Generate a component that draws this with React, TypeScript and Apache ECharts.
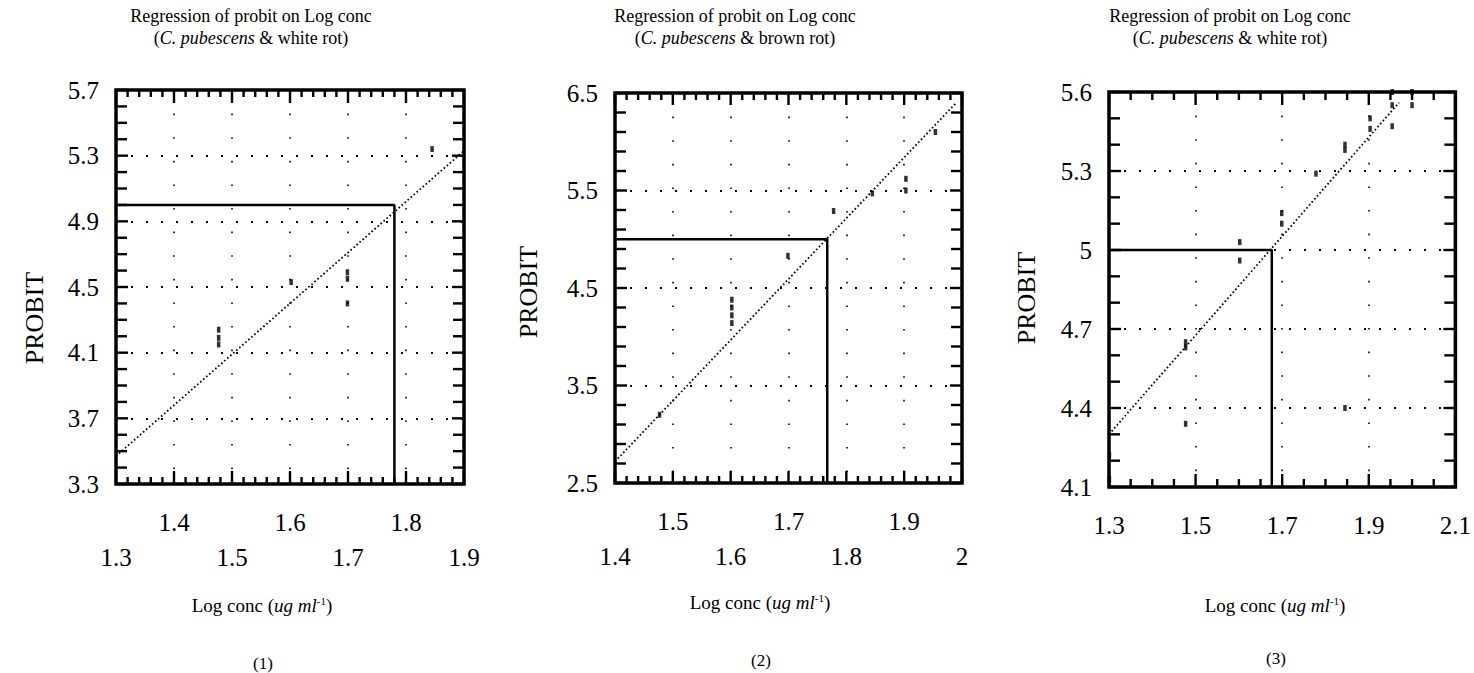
import React, { useEffect, useRef } from "react";
import * as echarts from "echarts";

// ---------- data ----------
const panelNames = ["(1)", "(2)", "(3)"];
const titleLine1 = ["Regression of probit on Log conc", "Regression of probit on Log conc", "Regression of probit on Log conc"];
const fungus = ["white rot", "brown rot", "white rot"];

const xMin = [1.3, 1.4, 1.3];
const xMax = [1.9, 2.0, 2.1];
const xStep = [0.1, 0.1, 0.2];
const xMinorSplit = [5, 5, 4];
const xStagger = [true, true, false];

const yMin = [3.3, 2.5, 4.1];
const yMax = [5.7, 6.5, 5.6];
const yStep = [0.4, 1.0, 0.3];
const yMinorSplit = [4, 5, 3];

const probitRef = 5;
const lc50 = [1.78, 1.767, 1.676];

const regStartX = [1.3, 1.4, 1.3];
const regStartY = [3.47, 2.72, 4.3];
const regEndX = [1.9, 1.99, 1.97];
const regEndY = [5.33, 6.4, 5.56];

const pts1X = [1.477, 1.477, 1.477, 1.602, 1.699, 1.699, 1.699, 1.845];
const pts1Y = [4.24, 4.19, 4.15, 4.53, 4.59, 4.55, 4.4, 5.34];

const pts2X = [1.477, 1.602, 1.602, 1.602, 1.602, 1.699, 1.778, 1.845, 1.903, 1.903, 1.954];
const pts2Y = [3.2, 4.38, 4.3, 4.22, 4.14, 4.83, 5.29, 5.47, 5.62, 5.5, 6.1];

const pts3X = [1.301, 1.301, 1.477, 1.477, 1.477, 1.602, 1.602, 1.699, 1.699, 1.778, 1.845, 1.845, 1.845, 1.903, 1.903, 1.954, 1.954, 1.954, 2.0, 2.0];
const pts3Y = [4.22, 4.13, 4.65, 4.63, 4.34, 5.03, 4.96, 5.14, 5.1, 5.29, 5.4, 5.38, 4.4, 5.5, 5.46, 5.6, 5.55, 5.47, 5.6, 5.55];

const ptsX = [pts1X, pts2X, pts3X];
const ptsY = [pts1Y, pts2Y, pts3Y];

// ---------- layout / style ----------
const gridBox = [
  { left: 116, top: 90, width: 348, height: 394 },
  { left: 615, top: 93, width: 347, height: 390 },
  { left: 1109, top: 92, width: 349, height: 395 },
];
const titleCx = [251, 735, 1230];
const probitPos = [[34, 318], [528, 292], [1026, 298]];
const xNamePos = [[262, 605], [760, 602], [1275, 605]];
const panelLabelPos = [[263, 663], [761, 660], [1276, 658]];
const xTickLen = [[13, 7], [12, 7], [13, 8]]; // [major, minor]
const yTickLen = [[12, 11], [12, 11], [12, 11]];

const SERIF = "'Liberation Serif', 'DejaVu Serif', serif";
const BLACK = "#000";

function fmtNum(v: number) {
  return String(+Number(v).toFixed(2));
}

// tick marks (drawn inside all four sides of the frame)
function tickItems(i: number) {
  const items: number[][] = [];
  const nx = Math.round(((xMax[i] - xMin[i]) / xStep[i]) * xMinorSplit[i]);
  for (let k = 0; k <= nx; k++) {
    const v = xMin[i] + (k * xStep[i]) / xMinorSplit[i];
    const len = k % xMinorSplit[i] === 0 ? xTickLen[i][0] : xTickLen[i][1];
    items.push([v, 0, len]);
    items.push([v, 1, len]);
  }
  const ny = Math.round(((yMax[i] - yMin[i]) / yStep[i]) * yMinorSplit[i]);
  for (let k = 0; k <= ny; k++) {
    const v = yMin[i] + (k * yStep[i]) / yMinorSplit[i];
    const len = k % yMinorSplit[i] === 0 ? yTickLen[i][0] : yTickLen[i][1];
    items.push([v, 2, len]);
    items.push([v, 3, len]);
  }
  return items;
}

export default function App() {
  const ref = useRef<HTMLDivElement>(null);

  useEffect(() => {
    if (!ref.current) return;
    const chart = echarts.init(ref.current, undefined, { renderer: "svg" });

    const grid: any[] = [];
    const xAxis: any[] = [];
    const yAxis: any[] = [];
    const series: any[] = [];
    const graphic: any[] = [];

    for (let i = 0; i < 3; i++) {
      grid.push({ ...gridBox[i], show: true, borderColor: BLACK, borderWidth: 3.5, backgroundColor: "transparent", containLabel: false });

      xAxis.push({
        gridIndex: i,
        type: "value",
        min: xMin[i],
        max: xMax[i],
        interval: xStep[i],
        position: "bottom",
        axisLine: { show: false },
        axisTick: { show: false },
        minorTick: { show: false },
        axisLabel: {
          show: true,
          margin: 26,
          color: BLACK,
          fontFamily: SERIF,
          fontSize: 25,
          formatter: (v: number) => {
            const idx = Math.round((v - xMin[i]) / xStep[i]);
            const t = fmtNum(v);
            if (!xStagger[i]) return `{a|${t}}`;
            return idx % 2 === 1 ? `{a|${t}}` : `{b|${t}}`;
          },
          rich: {
            a: { fontFamily: SERIF, fontSize: 25, color: BLACK },
            b: { fontFamily: SERIF, fontSize: 25, color: BLACK, padding: [35, 0, 0, 0] },
          },
        },
        splitLine: { show: true, lineStyle: { color: BLACK, width: 1.6, type: [1.6, 22] } },
        minorSplitLine: { show: false },
      });

      yAxis.push({
        gridIndex: i,
        type: "value",
        min: yMin[i],
        max: yMax[i],
        interval: yStep[i],
        position: "left",
        axisLine: { show: false },
        axisTick: { show: false },
        minorTick: { show: false },
        axisLabel: {
          show: true,
          margin: 17,
          color: BLACK,
          fontFamily: SERIF,
          fontSize: 25,
          formatter: (v: number) => fmtNum(v),
        },
        splitLine: { show: true, lineStyle: { color: BLACK, width: 2, type: [2, 13] } },
        minorSplitLine: { show: false },
      });

      // frame ticks
      const gi = i;
      series.push({
        type: "custom",
        xAxisIndex: i,
        yAxisIndex: i,
        clip: false,
        silent: true,
        z: 6,
        data: tickItems(i),
        renderItem: (params: any, api: any) => {
          const v = api.value(0);
          const side = api.value(1);
          const len = api.value(2);
          let p: number[];
          let q: number[];
          if (side === 0) {
            p = api.coord([v, yMin[gi]]);
            q = [p[0], p[1] - len];
          } else if (side === 1) {
            p = api.coord([v, yMax[gi]]);
            q = [p[0], p[1] + len];
          } else if (side === 2) {
            p = api.coord([xMin[gi], v]);
            q = [p[0] + len, p[1]];
          } else {
            p = api.coord([xMax[gi], v]);
            q = [p[0] - len, p[1]];
          }
          return {
            type: "line",
            shape: { x1: p[0], y1: p[1], x2: q[0], y2: q[1] },
            style: { stroke: BLACK, lineWidth: 2.4 },
          };
        },
      });

      // regression line
      series.push({
        type: "line",
        xAxisIndex: i,
        yAxisIndex: i,
        data: [
          [regStartX[i], regStartY[i]],
          [regEndX[i], regEndY[i]],
        ],
        symbol: "none",
        lineStyle: { color: BLACK, width: 1.8, type: [1.6, 2.4] },
        z: 3,
      });
      // LC50 reference lines
      series.push({
        type: "line",
        xAxisIndex: i,
        yAxisIndex: i,
        data: [
          [xMin[i], probitRef],
          [lc50[i], probitRef],
          [lc50[i], yMin[i]],
        ],
        symbol: "none",
        lineStyle: { color: BLACK, width: 2.5 },
        z: 4,
      });
      // observed points
      series.push({
        type: "scatter",
        xAxisIndex: i,
        yAxisIndex: i,
        data: ptsX[i].map((x, k) => [x, ptsY[i][k]]),
        symbol: "rect",
        symbolSize: [3.5, 6],
        itemStyle: { color: BLACK },
        z: 5,
      });

      // titles
      graphic.push({
        type: "text",
        x: titleCx[i],
        y: 16,
        style: { text: titleLine1[i], fontFamily: SERIF, fontSize: 18, fill: BLACK, align: "center", verticalAlign: "middle" },
      });
      graphic.push({
        type: "text",
        x: titleCx[i],
        y: 38,
        style: {
          text: `{n|(}{i|C. pubescens}{n| & ${fungus[i]})}`,
          align: "center",
          verticalAlign: "middle",
          rich: {
            n: { fontFamily: SERIF, fontSize: 18, fill: BLACK },
            i: { fontFamily: SERIF, fontSize: 18, fill: BLACK, fontStyle: "italic" },
          },
        },
      });
      // y-axis name
      graphic.push({
        type: "text",
        x: probitPos[i][0],
        y: probitPos[i][1],
        rotation: Math.PI / 2,
        style: { text: "PROBIT", fontFamily: SERIF, fontSize: 26, fill: BLACK, align: "center", verticalAlign: "middle" },
      });
      // x-axis name
      graphic.push({
        type: "text",
        x: xNamePos[i][0],
        y: xNamePos[i][1],
        style: {
          text: "{n|Log conc (}{i|ug ml}{s|-1}{n|)}",
          align: "center",
          verticalAlign: "middle",
          rich: {
            n: { fontFamily: SERIF, fontSize: 19, fill: BLACK, verticalAlign: "bottom" },
            i: { fontFamily: SERIF, fontSize: 19, fill: BLACK, fontStyle: "italic", verticalAlign: "bottom" },
            s: { fontFamily: SERIF, fontSize: 11, fill: BLACK, verticalAlign: "bottom", padding: [0, 0, 8, 0] },
          },
        },
      });
      // panel number
      graphic.push({
        type: "text",
        x: panelLabelPos[i][0],
        y: panelLabelPos[i][1],
        style: { text: panelNames[i], fontFamily: SERIF, fontSize: 17, fill: BLACK, align: "center", verticalAlign: "middle" },
      });
    }

    chart.setOption({
      animation: false,
      backgroundColor: "#fff",
      grid,
      xAxis,
      yAxis,
      series,
      graphic,
    });

    return () => chart.dispose();
  }, []);

  return (
    <div
      ref={ref}
      style={{ position: "absolute", left: 0, top: 0, width: 1474, height: 673, background: "#fff" }}
    />
  );
}
